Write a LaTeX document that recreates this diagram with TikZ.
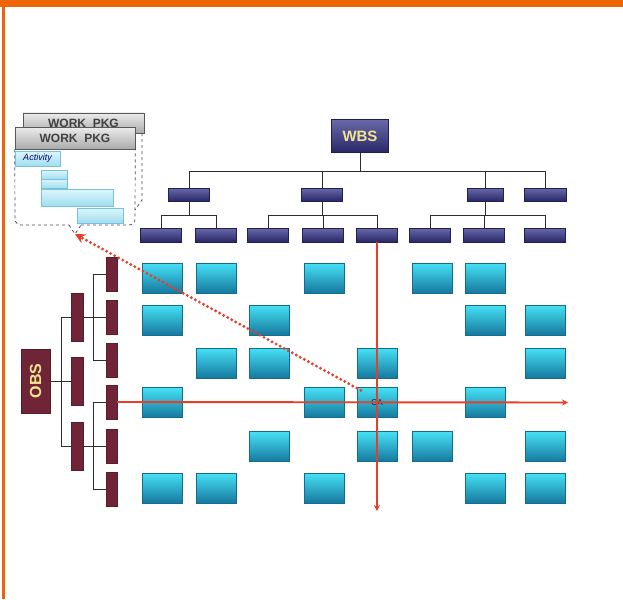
\documentclass[tikz,border=0pt]{standalone}
\usepackage{fontspec}
\setmainfont{Liberation Sans}
\usetikzlibrary{arrows.meta,calc}
\definecolor{frameorange}{RGB}{236,102,8}
\definecolor{navy}{RGB}{40,40,105}
\definecolor{navytop}{RGB}{105,105,170}
\definecolor{maroon}{RGB}{112,36,56}
\definecolor{cyantop}{RGB}{70,225,245}
\definecolor{cyanbot}{RGB}{22,120,158}
\definecolor{redline}{RGB}{232,62,40}
\definecolor{conn}{RGB}{45,45,45}
\definecolor{acttop}{RGB}{222,246,252}
\definecolor{actbot}{RGB}{160,222,240}
\definecolor{actdraw}{RGB}{120,195,220}
\definecolor{wbstext}{RGB}{240,230,140}
\definecolor{tabtop}{RGB}{236,236,236}
\definecolor{tabbot}{RGB}{170,170,170}
\begin{document}
\begin{tikzpicture}[x=1pt,y=-1pt,
  wbsbox/.style={rectangle,inner sep=0pt,top color=navytop,bottom color=navy,draw=navy!80!black,line width=0.4pt},
  cabox/.style={rectangle,inner sep=0pt,minimum width=40pt,minimum height=30pt,top color=cyantop,bottom color=cyanbot,draw=cyanbot!90!black,line width=0.3pt},
  obsbar/.style={rectangle,inner sep=0pt,fill=maroon,draw=maroon!80!black,line width=0.3pt},
  connline/.style={draw=conn,line width=0.8pt},
  redarrow/.style={draw=redline,line width=1.9pt,-{Stealth[length=6pt,width=6pt]}},
  tabbox/.style={rectangle,inner sep=0pt,top color=tabtop,bottom color=tabbot,draw=gray!70!black,line width=0.5pt,font=\bfseries\fontsize{12}{12}\selectfont,text=black!75},
  actbar/.style={rectangle,inner sep=0pt,top color=acttop,bottom color=actbot,draw=actdraw,line width=0.5pt},
  wpline/.style={draw=black!70,dashed,line width=0.7pt}
]
\useasboundingbox (0,0) rectangle (623,599);
% frame
\fill[frameorange] (0,0) rectangle (623,7);
\fill[frameorange] (2,0) rectangle (5,599);

% ---------- WBS ----------
\node[wbsbox,minimum width=57pt,minimum height=33pt,font=\bfseries\fontsize{15}{15}\selectfont,text=wbstext] (wbs) at (360,136) {WBS};
\foreach \n/\x/\w in {a/189/41,b/322/41,c/485/36,d/545/42}
  \node[wbsbox,minimum width=\w pt,minimum height=13pt] (l1\n) at (\x,194.5) {};
\foreach \n/\x in {1/161,2/216,3/268,4/323,5/377,6/430,7/484,8/545}
  \node[wbsbox,minimum width=41pt,minimum height=14pt] (l2\n) at (\x,235) {};

\coordinate (bus0) at (360,171);
\coordinate (busa) at (189,215);
\draw[connline] (wbs.south) -- (bus0);
\draw[connline] (l1a.north) -- (l1a.north |- bus0) -- (l1d.north |- bus0) -- (l1d.north);
\draw[connline] (l1b.north) -- (l1b.north |- bus0);
\draw[connline] (l1c.north) -- (l1c.north |- bus0);
% group 1
\draw[connline] (l1a.south) -- (l1a.south |- busa);
\draw[connline] (l21.north) -- (l21.north |- busa) -- (l22.north |- busa) -- (l22.north);
% group 2
\draw[connline] (l1b.south) -- (l1b.south |- busa);
\draw[connline] (l23.north) -- (l23.north |- busa) -- (l25.north |- busa) -- (l25.north);
\draw[connline] (l24.north) -- (l24.north |- busa);
% group 3
\draw[connline] (l1c.south) -- (l1c.south |- busa);
\draw[connline] (l26.north) -- (l26.north |- busa) -- (l28.north |- busa) -- (l28.north);
\draw[connline] (l27.north) -- (l27.north |- busa);

% ---------- OBS ----------
\node[obsbar,minimum width=29pt,minimum height=64pt] (obs) at (35.5,381) {};
\node[rotate=90,font=\bfseries\fontsize{16}{16}\selectfont,text=wbstext] (obstext) at (obs.center) {OBS};
\foreach \n/\y in {1/317,2/381,3/446}
  \node[obsbar,minimum width=12pt,minimum height=48pt] (o\n) at (77,\y) {};
\foreach \n/\y in {1/274,2/317,3/360,4/402,5/446,6/489}
  \node[obsbar,minimum width=11pt,minimum height=34pt] (p\n) at (111.5,\y) {};
\coordinate (xb) at (61,0);
\coordinate (xc) at (93,0);
\draw[connline] (obs.east) -- (o2.west);
\draw[connline] (o1.west) -- (o1.west -| xb) -- (o3.west -| xb) -- (o3.west);
\draw[connline] (o1.east) -- (p2.west);
\draw[connline] (p1.west) -- (p1.west -| xc) -- (p3.west -| xc) -- (p3.west);
\draw[connline] (o3.east) -- (p5.west);
\draw[connline] (p4.west) -- (p4.west -| xc) -- (p6.west -| xc) -- (p6.west);

% ---------- grid of cost accounts ----------
\foreach \r/\y/\cols in {1/278/{1/162,2/216,4/324,6/432,7/485},
                         2/320/{1/162,3/269,7/485,8/545},
                         3/363/{2/216,3/269,5/377,8/545},
                         4/402.5/{1/162,4/324,7/485},
                         5/446.5/{3/269,5/377,6/432,8/545},
                         6/488/{1/162,2/216,4/324,7/485,8/545}}
  \foreach \c/\x in \cols
    \node[cabox] (g\r\c) at (\x,\y) {};
\node[cabox,font=\fontsize{8.5}{8.5}\selectfont,text=cyanbot!35!black] (ca) at (377,402.5) {CA};

% ---------- WORK PKG ----------
\coordinate (wptip) at (75,234);
\node[tabbox,minimum width=121pt,minimum height=20pt] (wpb) at (83.5,123) {WORK\ \ PKG};
\draw[wpline] (142,133) -- (142,200) -- (135,210);
\fill[white] (15,149) rectangle (135,225);
\node[tabbox,minimum width=120pt,minimum height=22pt] (wpf) at (75,138) {WORK\ \ PKG};
\draw[wpline,rounded corners=6pt] (wpf.south west) -- (15,225) -- (69,225);
\draw[wpline] (69,225) -- (wptip) -- (81,225);
\draw[wpline,rounded corners=6pt] (81,225) -- (135,225) -- (wpf.south east);
\node[actbar,minimum width=45pt,minimum height=15pt,font=\itshape\fontsize{9}{9}\selectfont,text=blue!45!black] (act0) at (37.5,158.5) {Activity};
\node[actbar,minimum width=26pt,minimum height=9pt] (act1) at (54,174.5) {};
\node[actbar,minimum width=26pt,minimum height=9pt] (act2) at (54,183.5) {};
\node[actbar,minimum width=72pt,minimum height=17pt] (act3) at (77,197.5) {};
\node[actbar,minimum width=46pt,minimum height=15pt] (act4) at (100,215.5) {};

% ---------- red lines ----------
\coordinate (vend) at (377,511);
\coordinate (hend) at (568,402.5);
\draw[redarrow] (l25.south) -- (vend);
\draw[redarrow] (p4.east) -- (hend);
\draw[draw=redline,line width=3.2pt,line cap=round,dash pattern=on 0pt off 4.6pt,
      -{Stealth[length=10pt,width=10pt,fill=redline]}] ($(ca.north west)+(4,3)$) -- (wptip);
\end{tikzpicture}
\end{document}
